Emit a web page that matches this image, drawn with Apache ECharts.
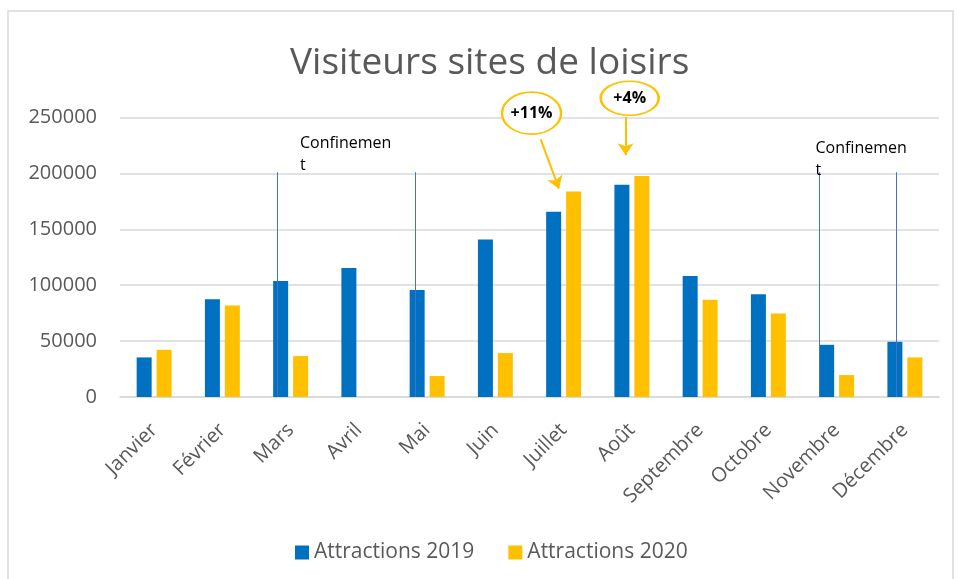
<!DOCTYPE html>
<html>
<head>
<meta charset="utf-8">
<script src="https://cdn.jsdelivr.net/npm/echarts@6/dist/echarts.min.js"></script>
<style>
  html, body { margin: 0; padding: 0; background: #fff; }
  #chart { width: 959px; height: 579px; }
</style>
</head>
<body>
<div id="chart"></div>
<script>
const months = ["Janvier", "Février", "Mars", "Avril", "Mai", "Juin", "Juillet", "Août", "Septembre", "Octobre", "Novembre", "Décembre"];
const attractions2019 = [35400, 87500, 103800, 115400, 95800, 140800, 165800, 189900, 108300, 92000, 46700, 49400];
const attractions2020 = [42200, 81900, 36600, 0, 18750, 39300, 183900, 197600, 86900, 74700, 19600, 35400];
const yTicks = { min: 0, max: 250000, interval: 50000 };

// annotations, in month units (0..12) and visitor units
const lockdownX = [2.305, 4.322, 10.24, 11.37];
const lockdownTop = 201000;
const lockdownLabels = [[2.637, 236300], [10.19, 231900]];
const callouts = [
  { text: "+11%", at: [6.03, 253800], from: [6.164, 230400], to: [6.432, 186300] },
  { text: "+4%", at: [7.468, 267200], from: [7.408, 250300], to: [7.408, 216100] }
];

const font = "Open Sans";
const grey = "#595959";
const chart = echarts.init(document.getElementById("chart"));

// second grid has the same scale but reaches 300000, so annotations above the plot are kept
const gridMain = { left: 120, right: 20, top: 117.5, bottom: 182 };
const gridNotes = { left: 120, right: 20, top: 117.5 - 56, bottom: 182 };

chart.setOption({
  textStyle: { fontFamily: font },
  graphic: [{
    type: "rect",
    shape: { x: 8, y: 11, width: 945, height: 575 },
    style: { fill: "none", stroke: "#d9d9d9", lineWidth: 1.5 },
    silent: true
  }],
  title: {
    text: "Visiteurs sites de loisirs",
    left: 285,
    top: 40,
    textStyle: { fontFamily: font, fontSize: 37, fontWeight: "normal", color: grey }
  },
  legend: {
    data: ["Attractions 2019", "Attractions 2020"],
    top: 537,
    left: 290,
    icon: "rect",
    itemWidth: 14,
    itemHeight: 14,
    itemGap: 34,
    textStyle: { fontFamily: font, fontSize: 21, color: grey }
  },
  grid: [gridMain, gridNotes],
  xAxis: [
    {
      type: "category",
      data: months,
      gridIndex: 0,
      axisTick: { show: false },
      axisLine: { lineStyle: { color: "#d9d9d9", width: 1.5 } },
      axisLabel: { rotate: 45, margin: 30, fontSize: 20, color: grey, fontFamily: font }
    },
    { type: "value", gridIndex: 1, min: 0, max: 12, show: false }
  ],
  yAxis: [
    {
      type: "value",
      gridIndex: 0,
      min: yTicks.min,
      max: yTicks.max,
      interval: yTicks.interval,
      axisLine: { show: false },
      axisTick: { show: false },
      splitLine: { lineStyle: { color: "#d9d9d9", width: 1.5 } },
      axisLabel: { margin: 23, fontSize: 20, color: grey, fontFamily: font, formatter: v => String(v) }
    },
    { type: "value", gridIndex: 1, min: 0, max: 300000, show: false }
  ],
  series: [
    {
      name: "Attractions 2019",
      type: "bar",
      data: attractions2019,
      barWidth: 15,
      barGap: "33%",
      itemStyle: { color: "#0070C0" }
    },
    {
      name: "Attractions 2020",
      type: "bar",
      data: attractions2020,
      barWidth: 15,
      itemStyle: { color: "#FFC000" }
    },
    {
      name: "annotations",
      type: "line",
      xAxisIndex: 1,
      yAxisIndex: 1,
      data: [],
      z: 5,
      silent: true,
      markLine: {
        silent: true,
        animation: false,
        label: { show: false },
        data: lockdownX.map(x => [
          { coord: [x, 0], symbol: "none", lineStyle: { color: "#4472C4", width: 1, type: "solid" } },
          { coord: [x, lockdownTop], symbol: "none" }
        ]).concat(callouts.map(c => [
          { coord: c.from, symbol: "none", lineStyle: { color: "#FFC000", width: 2, type: "solid" } },
          { coord: c.to, symbol: "arrow", symbolSize: 12 }
        ]))
      },
      markPoint: {
        silent: true,
        animation: false,
        data: lockdownLabels.map(p => ({
          coord: p,
          symbol: "rect",
          symbolSize: 0,
          label: {
            show: true,
            formatter: "Confinemen\nt",
            position: [0, 0],
            align: "left",
            verticalAlign: "top",
            fontFamily: font,
            fontSize: 16,
            lineHeight: 22,
            color: "#000"
          }
        })).concat(callouts.map((c, i) => ({
          coord: c.at,
          symbol: "circle",
          symbolSize: i === 0 ? [59, 42] : [58, 34],
          itemStyle: { color: "#fff", borderColor: "#FFC000", borderWidth: 2 },
          label: {
            show: true,
            formatter: c.text,
            position: "inside",
            fontFamily: font,
            fontSize: 16,
            fontWeight: "bold",
            color: "#000"
          }
        })))
      }
    }
  ]
});
</script>
</body>
</html>
